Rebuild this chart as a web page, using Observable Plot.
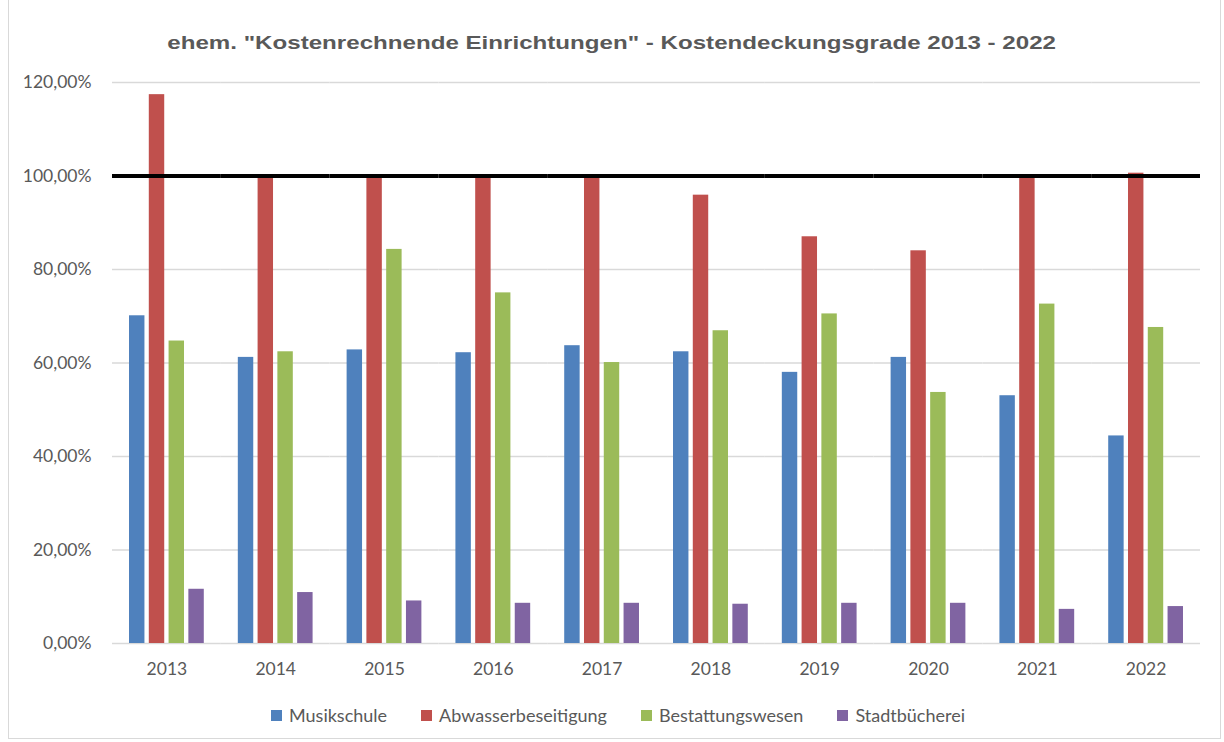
<!DOCTYPE html>
<html>
<head>
<meta charset="utf-8">
<script src="https://cdn.jsdelivr.net/npm/d3@7"></script>
<script src="https://cdn.jsdelivr.net/npm/@observablehq/plot@0.6"></script>
<style>
  html, body { margin: 0; padding: 0; background: #fff; overflow: hidden; }
  body { width: 1224px; height: 742px; position: relative; font-family: Lato, "Open Sans", sans-serif; color: #595959; }
  #frame { position: absolute; left: 8px; top: -2px; width: 1213px; height: 741px; border: 1px solid #d9d9d9; box-sizing: border-box; pointer-events: none; }
  #title { height: 70px; box-sizing: border-box; padding-top: 33px; line-height: 20px; text-align: center; }
  #title span { display: inline-block; transform: scaleX(1.34); transform-origin: center;
           font-family: "Liberation Sans", Arial, sans-serif; font-weight: bold; font-size: 18px; color: #595959; white-space: nowrap; }
  #legend { display: flex; justify-content: center; align-items: center; margin-top: 22px; line-height: 20px; font-size: 18px; padding-left: 12px; }
  .item { display: flex; align-items: center; margin: 0 17px; }
  .sw { width: 11px; height: 11px; margin-right: 7px; }
</style>
</head>
<body>
<div id="frame"></div>
<div id="title"><span>ehem. "Kostenrechnende Einrichtungen" - Kostendeckungsgrade 2013 - 2022</span></div>
<div id="chart"></div>
<div id="legend"></div>
<script>
const years = ["2013","2014","2015","2016","2017","2018","2019","2020","2021","2022"];
const series = ["Musikschule","Abwasserbeseitigung","Bestattungswesen","Stadtbücherei"];
const musikschule   = [70.1, 61.2, 62.8, 62.2, 63.7, 62.4, 58.0, 61.2, 53.0, 44.4];
const abwasser      = [117.4, 100.0, 100.0, 100.0, 100.0, 95.9, 87.0, 84.0, 99.7, 100.6];
const bestattung    = [64.7, 62.4, 84.3, 75.0, 60.1, 66.9, 70.5, 53.7, 72.6, 67.6];
const stadtbuecherei= [11.6, 10.9, 9.1, 8.6, 8.6, 8.4, 8.6, 8.6, 7.3, 7.9];
const colors = ["#4f81bd","#c0504d","#9bbb59","#8064a2"];
const yTicks = [0, 20, 40, 60, 80, 100, 120];
const threshold = [100];

const valuesBySeries = [musikschule, abwasser, bestattung, stadtbuecherei];
const data = years.flatMap((year, i) => series.map((s, j) => ({year, series: s, value: valuesBySeries[j][i]})));
const fmt = d => d.toFixed(2).replace(".", ",") + "%";

const chart = Plot.plot({
  width: 1224,
  height: 613,
  marginLeft: 112,
  marginRight: 24,
  marginTop: 12,
  marginBottom: 40,
  style: {fontFamily: "Lato, 'Open Sans', sans-serif", fontSize: "17px", color: "#595959", background: "transparent"},
  fx: {domain: years, padding: 0, round: false, label: null},
  x: {domain: series, axis: null, paddingInner: 0.22, paddingOuter: 0.86, round: false},
  y: {domain: [0, 120], label: null, axis: null},
  color: {domain: series, range: colors},
  marks: [
    Plot.gridY(yTicks, {stroke: "#d9d9d9", strokeOpacity: 1, strokeWidth: 1.5}),
    Plot.axisY(yTicks, {tickSize: 0, tickPadding: 21, tickFormat: fmt, label: null, fontSize: 17.5}),
    Plot.axisFx({anchor: "bottom", tickSize: 0, tickPadding: 19, label: null, fontSize: 17.5}),
    Plot.barY(data, {fx: "year", x: "series", y: "value", fill: "series"}),
    Plot.ruleY(threshold, {stroke: "#000", strokeWidth: 4})
  ]
});
document.getElementById("chart").appendChild(chart);

const legend = document.getElementById("legend");
series.forEach((s, i) => {
  const item = document.createElement("div");
  item.className = "item";
  const sw = document.createElement("span");
  sw.className = "sw";
  sw.style.background = colors[i];
  const label = document.createElement("span");
  label.textContent = s;
  item.appendChild(sw);
  item.appendChild(label);
  legend.appendChild(item);
});
</script>
</body>
</html>
